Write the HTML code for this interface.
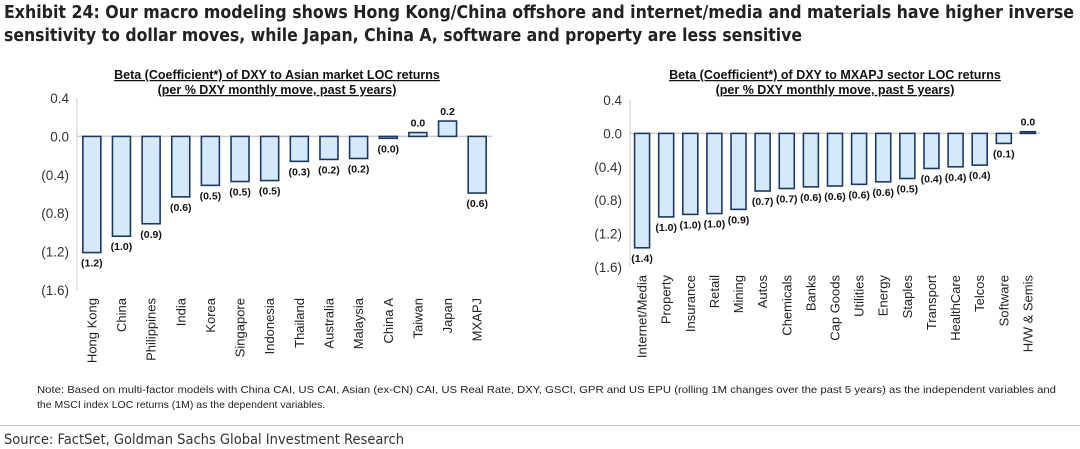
<!DOCTYPE html>
<html><head><meta charset="utf-8"><style>
html,body{margin:0;padding:0;background:#fff;width:1080px;height:449px;overflow:hidden}
svg{display:block;font-family:"Liberation Sans",Arial,sans-serif}
.t{font-family:"DejaVu Sans","Liberation Sans",sans-serif}
</style></head><body>
<svg id="s" width="1080" height="449" xmlns="http://www.w3.org/2000/svg">
<text class="t" x="4" y="18" font-size="17.5" font-weight="bold" fill="#222" textLength="1070" lengthAdjust="spacingAndGlyphs">Exhibit 24: Our macro modeling shows Hong Kong/China offshore and internet/media and materials have higher inverse</text>
<text class="t" x="4" y="41" font-size="17.5" font-weight="bold" fill="#222" textLength="798" lengthAdjust="spacingAndGlyphs">sensitivity to dollar moves, while Japan, China A, software and property are less sensitive</text>
<g id="c1"></g>
<g id="c2"></g>
<text x="37" y="393" font-size="10.5" fill="#222" textLength="1019" lengthAdjust="spacingAndGlyphs">Note: Based on multi-factor models with China CAI, US CAI, Asian (ex-CN) CAI, US Real Rate, DXY, GSCI, GPR and US EPU (rolling 1M changes over the past 5 years) as the independent variables and</text>
<text x="37" y="408" font-size="10.5" fill="#222">the MSCI index LOC returns (1M) as the dependent variables.</text>
<line x1="0" y1="425.5" x2="1080" y2="425.5" stroke="#ccc"/>
<text class="t" x="4" y="444" font-size="14" fill="#333" textLength="400" lengthAdjust="spacingAndGlyphs">Source: FactSet, Goldman Sachs Global Investment Research</text>
</svg>
<script>
const cats1=["Hong Kong","China","Philippines","India","Korea","Singapore","Indonesia","Thailand","Australia","Malaysia","China A","Taiwan","Japan","MXAPJ"];
const vals1=[-1.21,-1.04,-0.91,-0.63,-0.51,-0.47,-0.46,-0.26,-0.24,-0.23,-0.02,0.04,0.16,-0.59];
const cats2=["Internet/Media","Property","Insurance","Retail","Mining","Autos","Chemicals","Banks","Cap Goods","Utilities","Energy","Staples","Transport","HealthCare","Telcos","Software","H/W & Semis"];
const vals2=[-1.37,-1.0,-0.97,-0.96,-0.91,-0.69,-0.66,-0.64,-0.63,-0.61,-0.58,-0.54,-0.42,-0.40,-0.38,-0.12,0.02];
const ticks=[0.4,0,-0.4,-0.8,-1.2,-1.6];
const tickLabels=["0.4","0.0","(0.4)","(0.8)","(1.2)","(1.6)"];
const NS="http://www.w3.org/2000/svg";
function mk(p,t,a,txt){const e=document.createElementNS(NS,t);for(const k in a)e.setAttribute(k,a[k]);if(txt!=null)e.textContent=txt;p.appendChild(e);return e;}
function fmt(v){const r=Math.abs(v).toFixed(1);return v<0?"("+r+")":r;}
function chart(g,cats,vals,o){
  const y=v=>o.y0+(o.yBot-o.y0)*(0.4-v)/2.0;
  const band=(o.x1-o.x0)/cats.length;
  const x=i=>o.x0+band*(i+0.5);
  const t1=mk(g,'text',{x:o.tx,y:o.ty,'font-size':12.5,'font-weight':'bold','text-anchor':'middle','text-decoration':'underline',fill:'#111'},o.title1);
  
  
  const t2=mk(g,'text',{x:o.tx,y:o.ty+15,'font-size':12.5,'font-weight':'bold','text-anchor':'middle','text-decoration':'underline',fill:'#111'},o.title2);
  
  
  const ax=mk(g,'line',{x1:o.x0,y1:y(0.4),x2:o.x0,y2:y(-1.6),stroke:'#ccc'});
  
  
  ticks.forEach((t,i)=>{
    const tl=mk(g,'text',{x:o.x0-8,y:y(t)+5,'font-size':13.5,'text-anchor':'end',fill:'#333'},tickLabels[i]);
    
    
  });
  const zl=mk(g,'line',{x1:o.x0,y1:y(0),x2:o.x1,y2:y(0),stroke:'#ccc','stroke-width':1.5});
  
  
  cats.forEach((c,i)=>{
    const v=vals[i],top=Math.min(y(v),y(0)),h=Math.max(Math.abs(y(v)-y(0)),1);
    const b=mk(g,'rect',{x:x(i)-o.bw/2,y:top,width:o.bw,height:h,fill:'#d5e9fb',stroke:'#1b3a63','stroke-width':1.6});
    
    
    const ly=v<0?y(v)+14:y(v)-6;
    const vl=mk(g,'text',{x:x(i),y:ly,'font-size':10.5,'font-weight':'bold','text-anchor':'middle',fill:'#111'},fmt(v));
    
    
    const cl=mk(g,'text',{x:0,y:0,'font-size':13,'text-anchor':'end',fill:'#222',transform:`translate(${x(i)+4.5},${y(-1.6)+8}) rotate(-90)`},c);
    
    
  });
}
chart(document.getElementById('c1'),cats1,vals1,{x0:77,x1:492,y0:98,yBot:290,bw:18,tx:277,ty:79,
  title1:"Beta (Coefficient*) of DXY to Asian market LOC returns",title2:"(per % DXY monthly move, past 5 years)"});
chart(document.getElementById('c2'),cats2,vals2,{x0:630,x1:1040,y0:100,yBot:267,bw:15,tx:835,ty:79,
  title1:"Beta (Coefficient*) of DXY to MXAPJ sector LOC returns",title2:"(per % DXY monthly move, past 5 years)"});
</script>
</body></html>
